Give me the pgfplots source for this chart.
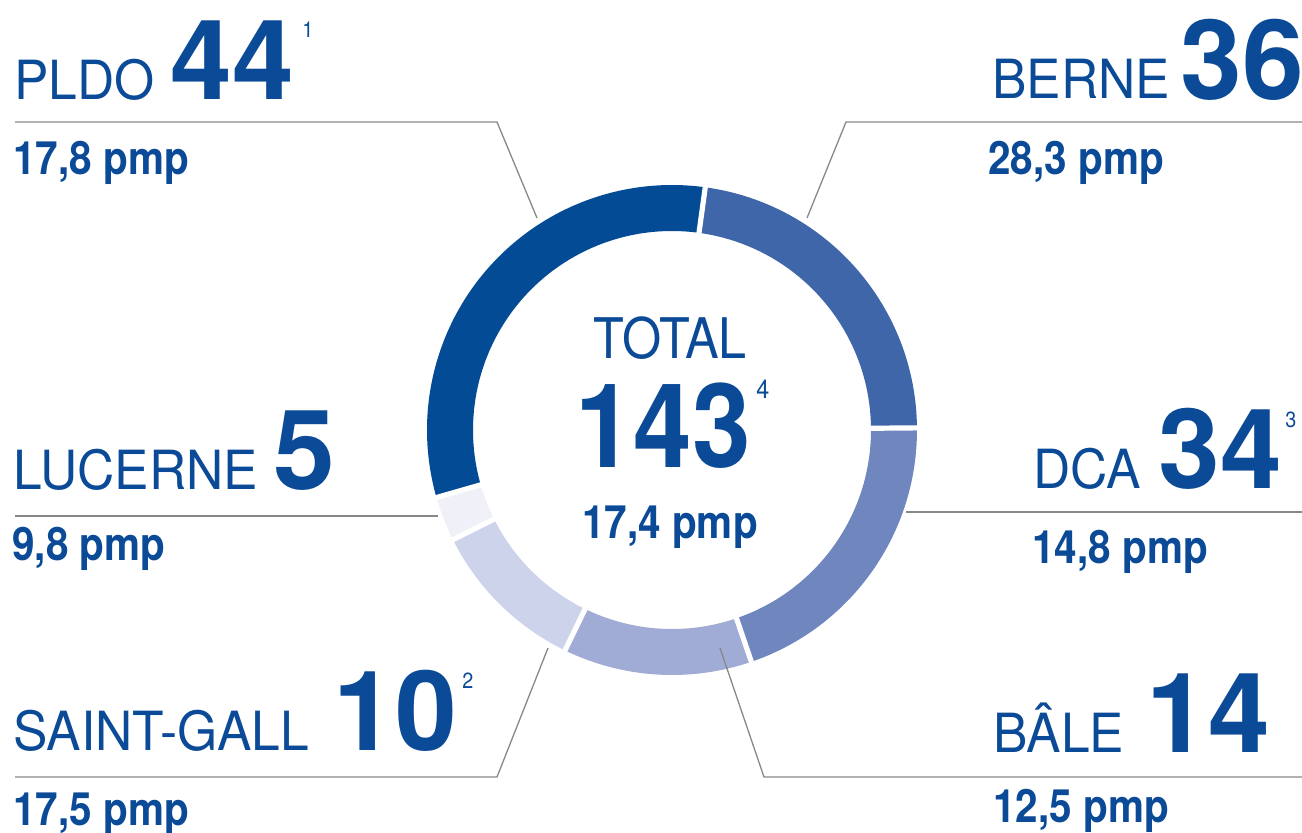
\documentclass[border=0pt]{standalone}
\usepackage{pgfplots}
\pgfplotsset{compat=1.18}
\usepackage{fontspec}
\setmainfont{TeX Gyre Heros}
\newfontfamily\namefont[FakeStretch=0.955]{TeX Gyre Heros}
\newfontfamily\condfont[FakeStretch=0.9]{TeX Gyre Heros}
\newfontfamily\pmpfont[FakeStretch=0.88]{TeX Gyre Heros}
\definecolor{txt}{HTML}{0B4A97}
\definecolor{cPLDO}{HTML}{034B95}
\definecolor{cBERNE}{HTML}{4066AA}
\definecolor{cDCA}{HTML}{7086BE}
\definecolor{cBALE}{HTML}{A0ACD5}
\definecolor{cSG}{HTML}{CDD3EA}
\definecolor{cLUC}{HTML}{EFF0F8}
\definecolor{lead}{HTML}{888888}
% segment: start angle, end angle, colour (ring drawn around coordinate C)
\newcommand\seg[3]{\fill[#3] ([shift={(#1:122.5pt)}]C) arc[start angle=#1, end angle=#2, radius=122.5pt] -- ([shift={(#2:99.5pt)}]C) arc[start angle=#2, end angle=#1, radius=99.5pt] -- cycle;}
\newcommand\gap[1]{\draw[white, line width=2.6pt] ([shift={(#1:95pt)}]C) -- ([shift={(#1:127pt)}]C);}
\newcommand\nmlab[3]{\node[anchor=base west, inner sep=0pt, text=txt, font=\namefont\fontsize{27}{27}\selectfont] at (axis cs:#1,#2) {#3};}
\newcommand\bignum[3]{\node[anchor=base west, inner sep=0pt, text=txt, font=\fontsize{55.5}{55.5}\selectfont\bfseries] at (axis cs:#1,#2) {#3};}
\newcommand\supnum[3]{\node[anchor=base west, inner sep=0pt, text=txt, font=\condfont\fontsize{11}{11}\selectfont] at (axis cs:#1,#2) {#3};}
\newcommand\pmplab[3]{\node[anchor=base west, inner sep=0pt, text=txt, font=\pmpfont\fontsize{23}{23}\selectfont\bfseries] at (axis cs:#1,#2) {#3};}
\begin{document}
\begin{tikzpicture}
\path[use as bounding box] (0,0) rectangle (651pt,416pt);
\begin{axis}[x=0.5pt, y=0.5pt, scale only axis, xmin=0, xmax=1302, ymin=0, ymax=832,
  hide axis, clip=false, at={(0,0)}, anchor=origin]
\coordinate (C) at (axis cs:672,402);
% ring segments (values: PLDO 44, BERNE 36, DCA 34, BALE 14, SAINT-GALL 10, LUCERNE 5)
\seg{82.2}{0.5}{cBERNE}
\seg{0.5}{-71.1}{cDCA}
\seg{-71.1}{-115.9}{cBALE}
\seg{-115.9}{-153.4}{cSG}
\seg{-153.4}{-164}{cLUC}
\seg{-164}{-277.8}{cPLDO}
\gap{82.2}\gap{0.5}\gap{-71.1}\gap{-115.9}\gap{-153.4}\gap{-164}
% leader lines
\addplot[lead, line width=0.65pt, mark=none] coordinates {(15,710) (497,710) (537,614)};
\addplot[lead, line width=0.65pt, mark=none] coordinates {(807,614) (846,710) (1302,710)};
\addplot[lead, line width=0.65pt, mark=none] coordinates {(906,320) (1302,320)};
\addplot[lead, line width=0.65pt, mark=none] coordinates {(15,316) (438,316)};
\addplot[lead, line width=0.65pt, mark=none] coordinates {(548,184) (497,55) (15,55)};
\addplot[lead, line width=0.65pt, mark=none] coordinates {(720,184) (764,55) (1302,55)};
% labels
\nmlab{14}{732}{PLDO}\bignum{170}{732}{44}\supnum{302}{794}{1}\pmplab{13}{657}{17,8 pmp}
\nmlab{992}{733}{BERNE}\bignum{1180}{732}{36}\pmplab{988}{657}{28,3 pmp}
\nmlab{1033}{344}{DCA}\bignum{1158}{344}{34}\supnum{1285}{405}{3}\pmplab{1032}{269}{14,8 pmp}
\nmlab{13}{343}{LUCERNE}\bignum{273}{343}{5}\pmplab{12}{272}{9,8 pmp}
\nmlab{13}{82}{SAINT-GALL}\bignum{333}{82}{10}\supnum{462}{144}{2}\pmplab{13}{7}{17,5 pmp}
\nmlab{993}{80}{BÂLE}\bignum{1146}{80}{14}\pmplab{993}{10}{12,5 pmp}
% centre
\node[anchor=base, inner sep=0pt, text=txt, font=\condfont\fontsize{28}{28}\selectfont] at (axis cs:670,474) {TOTAL};
\node[anchor=base west, inner sep=0pt, text=txt, font=\condfont\fontsize{58.5}{58.5}\selectfont\bfseries] at (axis cs:575,365) {143};
\supnum{756}{434}{\fontsize{13}{13}\selectfont 4}
\node[anchor=base, inner sep=0pt, text=txt, font=\pmpfont\fontsize{23}{23}\selectfont\bfseries] at (axis cs:670,294) {17,4 pmp};
\end{axis}
\end{tikzpicture}
\end{document}
